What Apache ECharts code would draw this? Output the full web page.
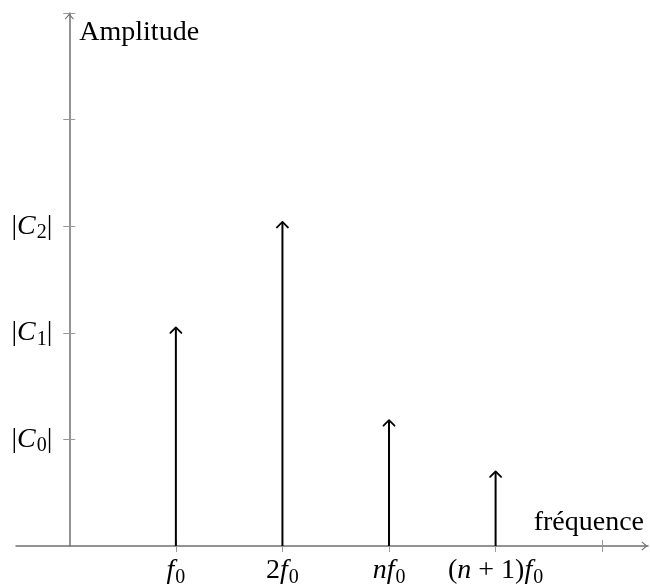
<!DOCTYPE html>
<html>
<head>
<meta charset="utf-8">
<script src="https://cdn.jsdelivr.net/npm/echarts@6/dist/echarts.min.js"></script>
<style>html,body{margin:0;padding:0;background:#fff;}#c{width:650px;height:587px;}</style>
</head>
<body>
<div id="c"></div>
<script>
// Data
const freqPositions = [1, 2, 3, 4];
const freqLabels = ['{i|f}{s|0}', '{n|2}{i|f}{s|0}', '{i|nf}{s|0}', '{n|(}{i|n}{n| + 1)}{i|f}{s|0}'];
const amplitudes = [2.05, 3.04, 1.18, 0.70];
const xTickValues = [1, 2, 3, 4, 5];
const yTickValues = [1, 2, 3, 4, 5];
const ampTickValues = [1, 2, 3];
const ampLabels = ['{n||}{i|C}{s|0}{n||}', '{n||}{i|C}{s|1}{n||}', '{n||}{i|C}{s|2}{n||}'];
const xName = 'fréquence';
const yName = 'Amplitude';

const FONT = 'Liberation Serif';
const FS = 28;
const rich = {
  n: { fontFamily: FONT, fontSize: FS, lineHeight: 32, color: '#000' },
  i: { fontFamily: FONT, fontSize: FS, fontStyle: 'italic', lineHeight: 32, color: '#000' },
  s: { fontFamily: FONT, fontSize: 20, lineHeight: 19, padding: [13, 0, 0, 1], color: '#000' }
};
const AXIS = '#707070', TICK = '#999';
const arrowPath = 'path://M0,0 L5,6 L4.2,6.8 L0,2 L-4.2,6.8 L-5,6 Z';
const XMIN = -0.5, XMAX = 5.43, YMIN = 0, YMAX = 5;
const GL = 16, GR = 2, GT = 13, GB = 41;
const zeroX = GL + (0 - XMIN) / (XMAX - XMIN) * (650 - GL - GR);

const tickStyle = { color: TICK, width: 1 };
const chart = echarts.init(document.getElementById('c'), null, { renderer: 'canvas' });
chart.setOption({
  animation: false,
  backgroundColor: '#fff',
  grid: [
    { left: GL, right: GR, top: GT, bottom: GB, containLabel: false, outerBoundsMode: 'none' },
    { left: zeroX, right: GR, top: GT, bottom: GB, containLabel: false, outerBoundsMode: 'none' }
  ],
  xAxis: [{
    gridIndex: 0, type: 'value', min: XMIN, max: XMAX, position: 'bottom',
    name: xName, nameLocation: 'end', nameGap: -4,
    nameTextStyle: { fontFamily: FONT, fontSize: FS, color: '#000', align: 'right', verticalAlign: 'bottom', lineHeight: 32, padding: [0, 0, 7, 0] },
    axisLine: { show: true, onZero: false, lineStyle: { color: AXIS, width: 1.5 }, symbol: ['none', arrowPath], symbolSize: [9, 7], symbolOffset: [0, -3.5] },
    axisTick: { show: true, length: 6, customValues: xTickValues, lineStyle: tickStyle },
    axisLabel: { show: true, customValues: freqPositions, margin: 9, formatter: v => freqLabels[freqPositions.indexOf(v)] || '', rich: rich },
    splitLine: { show: false }
  }, {
    gridIndex: 0, type: 'value', min: XMIN, max: XMAX, position: 'bottom',
    axisLine: { show: false, onZero: false },
    axisTick: { show: true, inside: true, length: 6, customValues: xTickValues, lineStyle: tickStyle },
    axisLabel: { show: false }, splitLine: { show: false }
  }, {
    gridIndex: 1, type: 'value', min: 0, max: XMAX, show: false
  }],
  yAxis: [{
    gridIndex: 0, type: 'value', min: YMIN, max: YMAX, show: false
  }, {
    gridIndex: 1, type: 'value', min: YMIN, max: YMAX, position: 'left',
    name: yName, nameLocation: 'end', nameGap: 0,
    nameTextStyle: { fontFamily: FONT, fontSize: FS, color: '#000', align: 'left', verticalAlign: 'top', lineHeight: 32, padding: [4, 0, 0, 10] },
    axisLine: { show: true, onZero: false, lineStyle: { color: AXIS, width: 1.5 }, symbol: ['none', arrowPath], symbolSize: [9, 7], symbolOffset: [0, -3.5] },
    axisTick: { show: true, length: 6, customValues: yTickValues, lineStyle: tickStyle },
    axisLabel: { show: true, customValues: ampTickValues, margin: 17, formatter: v => ampLabels[ampTickValues.indexOf(v)] || '', rich: rich },
    splitLine: { show: false }
  }, {
    gridIndex: 1, type: 'value', min: YMIN, max: YMAX, position: 'left',
    axisLine: { show: false, onZero: false },
    axisTick: { show: true, inside: true, length: 6, customValues: yTickValues, lineStyle: tickStyle },
    axisLabel: { show: false }, splitLine: { show: false }
  }],
  series: [{
    type: 'custom',
    xAxisIndex: 0, yAxisIndex: 0,
    data: freqPositions.map((x, i) => [x, amplitudes[i]]),
    z: 5,
    renderItem: function (params, api) {
      const base = api.coord([api.value(0), 0]);
      const top = api.coord([api.value(0), api.value(1)]);
      return {
        type: 'group',
        children: [
          { type: 'line', shape: { x1: base[0], y1: base[1], x2: top[0], y2: top[1] + 1 }, style: { stroke: '#000', lineWidth: 2 } },
          { type: 'polyline', shape: { points: [[top[0] - 5.5, top[1] + 5.5], [top[0], top[1]], [top[0] + 5.5, top[1] + 5.5]] }, style: { stroke: '#000', lineWidth: 1.8, fill: null, lineJoin: 'round', lineCap: 'round' } }
        ]
      };
    }
  }]
});
</script>
</body>
</html>
